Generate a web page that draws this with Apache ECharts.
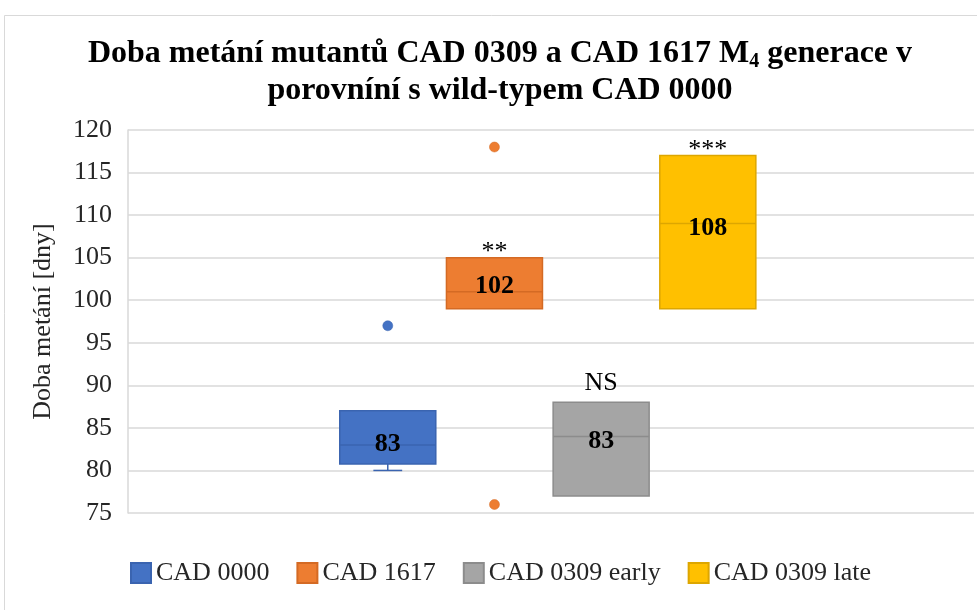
<!DOCTYPE html>
<html>
<head>
<meta charset="utf-8">
<script src="https://cdn.jsdelivr.net/npm/echarts@6/dist/echarts.min.js"></script>
<style>
html,body{margin:0;padding:0;background:#fff;}
#chart{width:977px;height:610px;}
</style>
</head>
<body>
<div id="chart"></div>
<script>
// ---- data ----
const groups = ['CAD 0000', 'CAD 1617', 'CAD 0309 early', 'CAD 0309 late'];
const whiskerMin = [80, 99, 77, 99];
const quartile1 = [80.75, 99, 77, 99];
const medians = [83, 101, 84, 109];
const quartile3 = [87, 105, 88, 117];
const whiskerMax = [87, 105, 88, 117];
const means = [83.1, 101.6, 83.4, 108.4];
const outliers = [[97], [118, 76], [], []];
const significance = ['', '**', 'NS', '***'];
const yMin = 75, yMax = 120, yStep = 5;

// ---- styles ----
const FONT = '"Liberation Serif", "Times New Roman", serif';
const fills = ['#4472C4', '#ED7D31', '#A5A5A5', '#FFC000'];
const strokes = ['#3A64B0', '#D46A24', '#8C8C8C', '#DDA600'];

function makeRender(i) {
  return function (params, api) {
    const x = api.value(0);
    const pLo = api.coord([x, api.value(1)]);
    const pQ1 = api.coord([x, api.value(2)]);
    const pMed = api.coord([x, api.value(3)]);
    const pQ3 = api.coord([x, api.value(4)]);
    const pHi = api.coord([x, api.value(5)]);
    const pMean = api.coord([x, api.value(6)]);
    const unit = api.size([1, 0])[0];
    const bw = unit * 0.9;
    const cw = unit * 0.27;
    const cx = pQ1[0];
    const ls = { stroke: strokes[i], lineWidth: 1.5 };
    const children = [];
    if (pLo[1] - pQ1[1] > 0.5) {
      children.push({ type: 'line', shape: { x1: cx, y1: pQ1[1], x2: cx, y2: pLo[1] }, style: ls });
      children.push({ type: 'line', shape: { x1: cx - cw / 2, y1: pLo[1], x2: cx + cw / 2, y2: pLo[1] }, style: ls });
    }
    if (pQ3[1] - pHi[1] > 0.5) {
      children.push({ type: 'line', shape: { x1: cx, y1: pQ3[1], x2: cx, y2: pHi[1] }, style: ls });
      children.push({ type: 'line', shape: { x1: cx - cw / 2, y1: pHi[1], x2: cx + cw / 2, y2: pHi[1] }, style: ls });
    }
    children.push({
      type: 'rect',
      shape: { x: cx - bw / 2, y: pQ3[1], width: bw, height: pQ1[1] - pQ3[1] },
      style: { fill: fills[i], stroke: strokes[i], lineWidth: 1.5 }
    });
    children.push({ type: 'line', shape: { x1: cx - bw / 2, y1: pMed[1], x2: cx + bw / 2, y2: pMed[1] }, style: ls });
    children.push({
      type: 'text', x: cx, y: pMean[1],
      style: { text: String(Math.round(api.value(6))), font: 'bold 26px ' + FONT, fill: '#000', align: 'center', verticalAlign: 'middle' }
    });
    const sig = significance[i];
    if (sig) {
      const star = sig.indexOf('*') >= 0;
      children.push({
        type: 'text', x: cx, y: pHi[1] + (star ? 8 : -6),
        style: { text: sig, font: '26px ' + FONT, fill: '#000', align: 'center', verticalAlign: 'bottom' }
      });
    }
    return { type: 'group', children: children };
  };
}

const series = [];
groups.forEach(function (g, i) {
  series.push({
    name: g,
    type: 'custom',
    renderItem: makeRender(i),
    itemStyle: { color: fills[i], borderColor: strokes[i], borderWidth: 1.5 },
    encode: { x: 0, y: [1, 2, 3, 4, 5] },
    data: [[i + 1, whiskerMin[i], quartile1[i], medians[i], quartile3[i], whiskerMax[i], means[i]]],
    z: 2
  });
});
groups.forEach(function (g, i) {
  series.push({
    name: g,
    type: 'scatter',
    symbol: 'circle',
    symbolSize: 10,
    itemStyle: { color: fills[i], opacity: 1, borderColor: strokes[i], borderWidth: 0.5 },
    data: outliers[i].map(function (v) { return [i + 1, v]; }),
    z: 3
  });
});

const chart = echarts.init(document.getElementById('chart'), null, { renderer: 'canvas' });
chart.setOption({
  animation: false,
  backgroundColor: '#fff',
  graphic: [{
    type: 'rect', silent: true, z: -10,
    shape: { x: 4.5, y: 15.5, width: 1100, height: 700 },
    style: { fill: 'none', stroke: '#d9d9d9', lineWidth: 1 }
  }],
  title: {
    text: '{t|Doba metání mutantů CAD 0309 a CAD 1617 M}{s|4}{t| generace v}\n{t|porovníní s wild-typem CAD 0000}',
    left: 500,
    top: 35,
    padding: 0,
    textAlign: 'center',
    textStyle: {
      rich: {
        t: { fontFamily: FONT, fontWeight: 'bold', fontSize: 32, lineHeight: 37, color: '#000' },
        s: { fontFamily: FONT, fontWeight: 'bold', fontSize: 20, lineHeight: 37, verticalAlign: 'bottom', color: '#000' }
      }
    }
  },
  legend: {
    data: groups,
    left: 125,
    top: 555,
    icon: 'rect',
    itemWidth: 20,
    itemHeight: 20,
    itemGap: 27,
    textStyle: { fontFamily: FONT, fontSize: 26, color: '#262626' }
  },
  grid: { left: 128, right: 3, top: 130, bottom: 97 },
  xAxis: {
    type: 'value',
    min: -1.435,
    max: 6.495,
    show: false
  },
  yAxis: {
    type: 'value',
    min: yMin,
    max: yMax,
    interval: yStep,
    name: 'Doba metání [dny]',
    nameLocation: 'middle',
    nameGap: 72,
    nameTextStyle: { fontFamily: FONT, fontSize: 26, color: '#262626' },
    axisLine: { show: true, onZero: false, lineStyle: { color: '#d9d9d9', width: 1.5 } },
    axisTick: { show: false },
    axisLabel: { fontFamily: FONT, fontSize: 26, color: '#262626', margin: 16 },
    splitLine: { show: true, lineStyle: { color: '#d9d9d9', width: 1.5 } }
  },
  series: series
});
</script>
</body>
</html>
